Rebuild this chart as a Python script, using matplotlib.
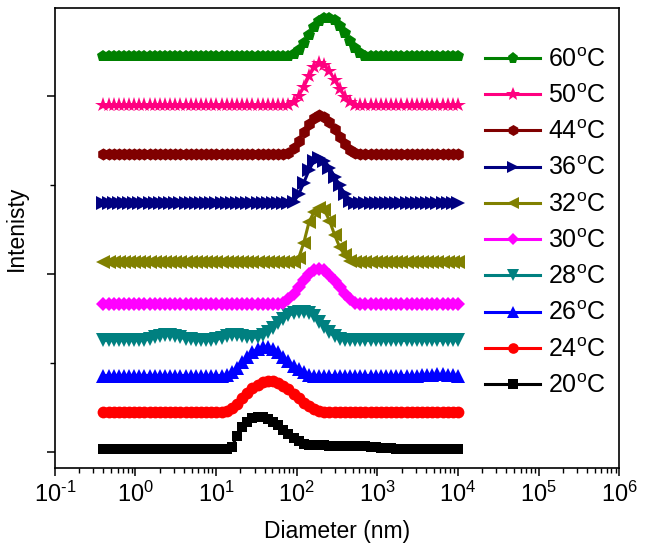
import math
import matplotlib
matplotlib.use('Agg')
import matplotlib.pyplot as plt
from matplotlib.ticker import FuncFormatter

plt.rcParams['font.family'] = ['Liberation Sans', 'DejaVu Sans']
plt.rcParams['mathtext.fontset'] = 'custom'
plt.rcParams['mathtext.rm'] = 'Liberation Sans'
plt.rcParams['mathtext.it'] = 'Liberation Sans:italic'

# size classes (nm)
diameter = [0.4, 0.4632, 0.5365, 0.6213, 0.7195, 0.8332, 0.9649, 1.117, 1.294, 1.499,
            1.736, 2.010, 2.328, 2.696, 3.122, 3.615, 4.187, 4.849, 5.615, 6.503,
            7.531, 8.721, 10.10, 11.70, 13.54, 15.69, 18.17, 21.04, 24.36, 28.21,
            32.67, 37.84, 43.82, 50.75, 58.77, 68.06, 78.82, 91.28, 105.7, 122.4,
            141.8, 164.2, 190.1, 220.2, 255.0, 295.3, 342.0, 396.1, 458.7, 531.2,
            615.1, 712.4, 825.0, 955.4, 1106, 1281, 1484, 1718, 1990, 2305,
            2669, 3091, 3580, 4145, 4801, 5560, 6439, 7456, 8635, 10000]
N = len(diameter)

def pad(start, vals):
    return [0.0] * start + vals + [0.0] * (N - start - len(vals))

temps = ['20', '24', '26', '28', '30', '32', '36', '44', '50', '60']
offsets = [0.3, 4.55, 8.6, 12.55, 16.6, 21.3, 27.95, 33.45, 39.0, 44.5]

i20 = pad(25, [0.3, 1.5, 2.5, 3.1, 3.5, 3.6, 3.6, 3.4, 3.1, 2.7, 2.2, 1.7, 1.3, 0.9, 0.65,
               0.5, 0.45, 0.45, 0.45, 0.42, 0.42, 0.4, 0.4, 0.4, 0.38, 0.36, 0.34, 0.3,
               0.26, 0.22, 0.18, 0.14, 0.1, 0.07, 0.05, 0.03, 0.02])
i24 = pad(24, [0.1, 0.4, 0.9, 1.5, 2.1, 2.6, 3.0, 3.3, 3.4, 3.4, 3.2, 2.9, 2.5, 2.0, 1.5,
               1.0, 0.6, 0.3, 0.1])
i26 = pad(24, [0.1, 0.4, 0.9, 1.5, 2.1, 2.6, 3.0, 3.2, 3.2, 3.0, 2.6, 2.1, 1.6, 1.1, 0.7,
               0.35, 0.1] + [0.0] * 21 + [0.05, 0.08, 0.1, 0.12, 0.12, 0.1, 0.05])
i28 = pad(8, [0.05, 0.15, 0.35, 0.5, 0.6, 0.6, 0.5, 0.35, 0.2, 0.1, 0.05, 0.0, 0.0, 0.0,
              0.1, 0.3, 0.5, 0.6, 0.55, 0.45, 0.35, 0.35, 0.4, 0.55, 0.9, 1.4, 1.9, 2.4,
              2.8, 3.05, 3.2, 3.2, 3.05, 2.7, 2.1, 1.5, 0.9, 0.45, 0.15, 0.05])
i30 = pad(35, [0.2, 0.6, 1.2, 1.9, 2.7, 3.4, 3.9, 4.0, 3.8, 3.3, 2.6, 1.9, 1.2, 0.6, 0.2])
i32 = pad(38, [0.5, 2.2, 4.5, 5.7, 6.1, 5.9, 4.7, 3.1, 1.7, 0.8, 0.2])
i36 = pad(37, [0.1, 1.0, 2.3, 3.7, 4.8, 5.1, 4.8, 4.0, 3.0, 2.0, 1.0, 0.3])
i44 = pad(36, [0.2, 0.7, 1.5, 2.5, 3.4, 4.1, 4.4, 4.2, 3.6, 2.8, 1.9, 1.1, 0.5, 0.1])
i50 = pad(37, [0.3, 1.0, 2.0, 3.2, 4.2, 4.7, 4.5, 3.8, 2.8, 1.8, 0.9, 0.3])
i60 = pad(37, [0.2, 0.7, 1.5, 2.4, 3.3, 3.9, 4.25, 4.3, 4.0, 3.4, 2.6, 1.7, 0.9, 0.3])
intensities = [i20, i24, i26, i28, i30, i32, i36, i44, i50, i60]

colors = ['#000000', '#FF0000', '#0000FF', '#008080', '#FF00FF',
          '#808000', '#000080', '#800000', '#FF0080', '#008000']
markers = ['s', 'o', '^', 'v', 'D', '<', '>', 'h', '*', 'p']
msizes = {'s': 7.5, 'o': 8.5, '^': 9.5, 'v': 9.5, 'D': 7, '<': 9.5, '>': 9.5,
          'h': 8.8, '*': 11.5, 'p': 9}

fig = plt.figure(figsize=(6.45, 5.58), dpi=100)
ax = fig.add_axes([0.085, 0.161, 0.875, 0.825])

handles = []
for t, off, inten, c, m in zip(temps, offsets, intensities, colors, markers):
    y = [v + off for v in inten]
    h, = ax.plot(diameter, y, color=c, marker=m, markersize=msizes[m], linewidth=2.2,
                 markeredgewidth=0, label=t + '$^{\\rm o}$C')
    handles.append(h)

def dec_label(v, p):
    e = '%d' % round(math.log10(v))
    return '$\\mathregular{10^{%s}}$' % e.replace('-', '\u2010')

ax.set_xscale('log')
ax.set_xlim(0.1, 1e6)
ax.set_ylim(-1.8, 49.9)
ax.xaxis.set_major_formatter(FuncFormatter(dec_label))
ax.set_yticks([0, 20, 40])
ax.set_yticks([10, 30], minor=True)
ax.set_yticklabels([])
ax.tick_params(axis='both', which='both', direction='out', top=False, right=False)
ax.tick_params(axis='both', which='major', length=6, width=1.1, labelsize=17)
ax.tick_params(axis='both', which='minor', length=3.5, width=1.0)
for s in ax.spines.values():
    s.set_linewidth(1.2)

ax.set_xlabel('Diameter (nm)', fontsize=16.5, labelpad=10)
ax.set_ylabel('Intenisty', fontsize=16.5)
ax.yaxis.set_label_coords(-0.048, 0.52)

# legend handles a bit smaller than the plotted markers
for h in handles:
    h.set_markersize(msizes[h.get_marker()] * 0.9)
leg = ax.legend(handles[::-1], [h.get_label() for h in handles[::-1]], frameon=False,
                fontsize=18, loc='upper left', bbox_to_anchor=(0.745, 0.935),
                handlelength=2.2, labelspacing=0.49, handletextpad=0.3, borderaxespad=0)
for h in handles:
    h.set_markersize(msizes[h.get_marker()])

fig.savefig('out.png', dpi=100)
